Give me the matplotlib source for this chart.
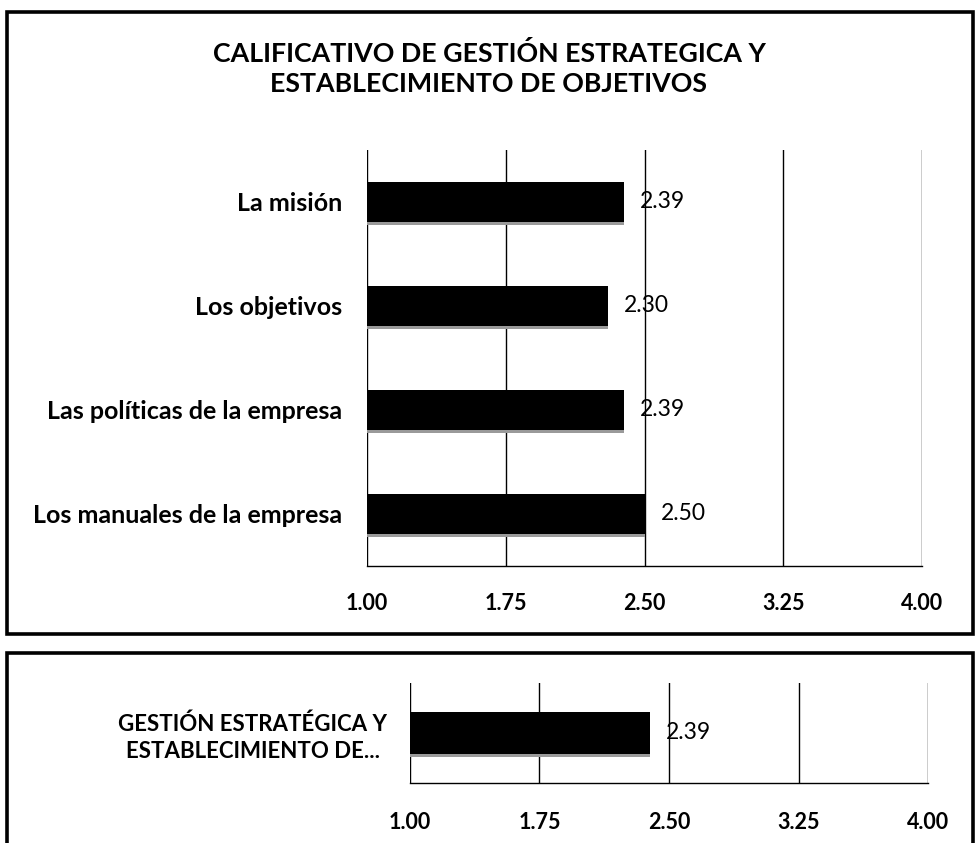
import matplotlib.pyplot as plt
from matplotlib.patches import Rectangle

# datos
categorias = ["La misión", "Los objetivos", "Las políticas de la empresa",
              "Los manuales de la empresa"]
valores = [2.39, 2.30, 2.39, 2.50]

categoria_total = ["GESTIÓN ESTRATÉGICA Y\nESTABLECIMIENTO DE..."]
valor_total = [2.39]

ticks_x = [1.00, 1.75, 2.50, 3.25, 4.00]
titulo = "CALIFICATIVO DE GESTIÓN ESTRATEGICA Y\nESTABLECIMIENTO DE OBJETIVOS"

plt.rcParams["font.family"] = ["Lato", "DejaVu Sans"]

fig = plt.figure(figsize=(9.78, 8.43), dpi=100)

# marcos de los dos graficos
fig.patches.append(Rectangle((0.0072, 0.2479), 0.9877, 0.7378, transform=fig.transFigure,
                             fill=False, edgecolor="black", linewidth=2.6))
fig.patches.append(Rectangle((0.0072, -0.02), 0.9877, 0.2454, transform=fig.transFigure,
                             fill=False, edgecolor="black", linewidth=2.6))


def barras(ax, cats, vals, alto, etiq_pad, label_size, tick_pad):
    ys = list(range(len(cats)))
    ax.barh(ys, [v - 1 for v in vals], left=1, height=alto, color="black", zorder=3)
    # sombra gris debajo de cada barra
    ax.barh([y + alto / 2 + 0.015 for y in ys], [v - 1 for v in vals], left=1,
            height=0.03, color="#9a9a9a", zorder=3)
    for y, v in zip(ys, vals):
        ax.annotate(f"{v:.2f}", (v, y), xytext=(11.5, 0), textcoords="offset points",
                    va="center", ha="left", fontsize=16.5, zorder=4)
    ax.set_xlim(1, 4)
    ax.set_ylim(len(cats) - 0.5, -0.5)
    ax.set_xticks(ticks_x)
    ax.set_xticklabels([f"{t:.2f}" for t in ticks_x], fontweight="bold", fontsize=15.5)
    ax.set_yticks(ys)
    ax.set_yticklabels(cats, fontweight="bold", fontsize=label_size, ha="right",
                       multialignment="center", linespacing=1.35)
    ax.tick_params(axis="y", length=0, pad=etiq_pad)
    ax.tick_params(axis="x", length=0, pad=tick_pad)
    ax.grid(axis="x", color="black", linewidth=1.0, zorder=1)
    for s in ["top", "right", "left"]:
        ax.spines[s].set_visible(False)
    ax.spines["bottom"].set_linewidth(1.0)


ax1 = fig.add_axes([0.3753, 0.3286, 0.5675, 0.4935])
barras(ax1, categorias, valores, 0.38, 18, 18, 19.5)
fig.text(0.5, 0.919, titulo, ha="center", va="center", fontsize=19.3,
         fontweight="bold", linespacing=1.29)

ax2 = fig.add_axes([0.4192, 0.0712, 0.5297, 0.1186])
barras(ax2, categoria_total, valor_total, 0.42, 16.5, 16, 21)

fig.savefig("out.png", dpi=100)
